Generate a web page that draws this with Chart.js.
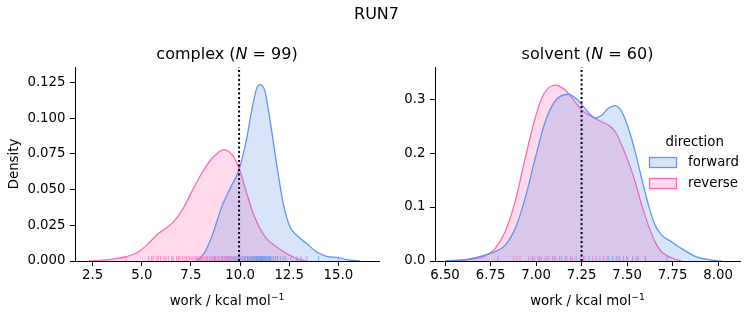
<!DOCTYPE html>
<html>
<head>
<meta charset="utf-8">
<script src="https://cdn.jsdelivr.net/npm/chart.js@4.4.1/dist/chart.umd.min.js"></script>
<style>
  body { margin: 0; background: #fff; }
  #wrap { position: relative; width: 753px; height: 325px; }
  #wrap canvas { position: absolute; left: 0; top: 0; }
</style>
</head>
<body>
<div id="wrap">
  <canvas id="chartComplex" width="753" height="325"></canvas>
  <canvas id="chartSolvent" width="753" height="325"></canvas>
</div>
<script>
const runTitle = "RUN7";
const directions = ["forward", "reverse"];

// complex leg
const complexN = 99;
const complexXTicks = [2.5, 5, 7.5, 10, 12.5, 15];
const complexYTicks = [0, 0.025, 0.05, 0.075, 0.1, 0.125];
const complexMean = 9.95;
const complexForwardKde = [
  [7.8, 0], [8.2, 0.006], [8.56, 0.017], [9.07, 0.038], [9.5, 0.051], [9.95, 0.064],
  [10.34, 0.086], [10.6, 0.106], [10.85, 0.121], [11.02, 0.1234], [11.27, 0.1187],
  [11.52, 0.099], [11.86, 0.068], [12.2, 0.04], [12.54, 0.024], [12.88, 0.018],
  [13.39, 0.0122], [13.9, 0.0063], [14.41, 0.0033], [15.0, 0.0024], [15.43, 0.001], [16.1, 0],
];
const complexReverseKde = [
  [2.3, 0], [3.3, 0.001], [4.14, 0.0028], [4.82, 0.0063], [5.33, 0.0122], [5.84, 0.0192],
  [6.27, 0.0234], [6.69, 0.0286], [7.2, 0.0391], [7.54, 0.0485], [8.05, 0.0614],
  [8.5, 0.0707], [8.85, 0.0755], [9.15, 0.078], [9.57, 0.0748], [9.95, 0.065],
  [10.34, 0.0473], [10.67, 0.0333], [11.01, 0.0228], [11.35, 0.0157], [11.86, 0.0098],
  [12.37, 0.0052], [12.88, 0.0017], [13.4, 0],
];
const complexForwardRug = [
  8.7, 9.1, 9.3, 9.45, 9.6, 9.7, 9.8, 9.9, 10.0, 10.1, 10.2, 10.25, 10.3, 10.38, 10.45,
  10.5, 10.55, 10.6, 10.65, 10.7, 10.72, 10.78, 10.82, 10.86, 10.9, 10.93, 10.96, 11.0,
  11.02, 11.05, 11.08, 11.1, 11.13, 11.16, 11.2, 11.23, 11.27, 11.3, 11.35, 11.4, 11.45,
  11.5, 11.55, 11.62, 11.7, 11.8, 11.9, 12.05, 12.3, 12.6, 12.9, 13.1, 13.4, 14.0, 15.0,
];
const complexReverseRug = [
  4.2, 5.35, 5.5, 5.58, 5.76, 5.84, 5.96, 6.13, 6.23, 6.35, 6.52, 6.6, 6.77, 6.86, 6.94,
  7.08, 7.2, 7.28, 7.4, 7.5, 7.6, 7.7, 7.78, 7.85, 7.95, 8.02, 8.1, 8.2, 8.28, 8.35, 8.45,
  8.52, 8.6, 8.68, 8.75, 8.82, 8.9, 8.97, 9.05, 9.12, 9.2, 9.28, 9.35, 9.42, 9.5, 9.58,
  9.65, 9.75, 9.85, 9.95, 10.1, 10.25, 10.4, 10.6, 10.85, 11.1, 11.5, 11.9, 12.2,
];

// solvent leg
const solventN = 60;
const solventXTicks = [6.5, 6.75, 7.0, 7.25, 7.5, 7.75, 8.0];
const solventYTicks = [0, 0.1, 0.2, 0.3];
const solventMean = 7.25;
const solventForwardKde = [
  [6.5, 0], [6.628, 0.0035], [6.72, 0.011], [6.775, 0.0175], [6.83, 0.029], [6.885, 0.06],
  [6.94, 0.116], [6.995, 0.19], [7.05, 0.258], [7.104, 0.296], [7.177, 0.309], [7.23, 0.298],
  [7.27, 0.282], [7.3, 0.271], [7.324, 0.265], [7.36, 0.27], [7.397, 0.283], [7.434, 0.288],
  [7.47, 0.277], [7.507, 0.246], [7.544, 0.203], [7.58, 0.153], [7.617, 0.104], [7.654, 0.066],
  [7.69, 0.048], [7.746, 0.035], [7.8, 0.023], [7.874, 0.0087], [7.947, 0.0026], [8.02, 0],
];
const solventReverseKde = [
  [6.5, 0], [6.628, 0.0025], [6.72, 0.0095], [6.775, 0.023], [6.83, 0.054], [6.885, 0.11],
  [6.94, 0.19], [6.995, 0.265], [7.04, 0.308], [7.104, 0.326], [7.16, 0.317], [7.214, 0.295],
  [7.25, 0.28], [7.306, 0.268], [7.36, 0.258], [7.397, 0.252], [7.434, 0.24], [7.47, 0.215],
  [7.507, 0.184], [7.544, 0.147], [7.58, 0.104], [7.617, 0.066], [7.654, 0.035], [7.69, 0.0167],
  [7.746, 0.0056], [7.8, 0],
];
const solventForwardRug = [
  6.79, 6.98, 7.02, 7.06, 7.1, 7.13, 7.16, 7.19, 7.22, 7.26, 7.29, 7.33, 7.37, 7.4, 7.42,
  7.44, 7.46, 7.48, 7.5, 7.53, 7.56, 7.6, 7.72,
];
const solventReverseRug = [
  6.875, 6.894, 6.912, 6.96, 6.99, 7.01, 7.03, 7.05, 7.07, 7.09, 7.11, 7.14, 7.17, 7.2,
  7.24, 7.27, 7.31, 7.35, 7.39, 7.45, 7.5, 7.55, 7.6,
];

const palette = { forward: [100, 149, 237], reverse: [255, 105, 180] };
const rgba = (c, a) => `rgba(${c[0]}, ${c[1]}, ${c[2]}, ${a})`;

Chart.defaults.font.family = "'DejaVu Sans', sans-serif";
Chart.defaults.color = "#000";

const tickFont = 13.3;

// draw a row of text pieces with different fonts, centred on cx
const drawRuns = (ctx, runs, cx, y) => {
  let total = 0;
  runs.forEach((r) => {
    ctx.font = r.font;
    r.w = ctx.measureText(r.text).width;
    total += r.w;
  });
  let x = cx - total / 2;
  ctx.textAlign = "left";
  runs.forEach((r) => {
    ctx.font = r.font;
    ctx.fillText(r.text, x, y + (r.dy || 0));
    x += r.w;
  });
};

const panelText = {
  id: "panelText",
  afterDraw(chart, args, o) {
    const ctx = chart.ctx;
    const area = chart.chartArea;
    const cx = (area.left + area.right) / 2;
    const fam = "'DejaVu Sans', sans-serif";
    ctx.save();
    ctx.fillStyle = "#000";
    ctx.textBaseline = "alphabetic";

    drawRuns(ctx, [
      { text: o.name + " (", font: `16px ${fam}` },
      { text: "N", font: `italic 16px ${fam}` },
      { text: " = " + o.n + ")", font: `16px ${fam}` },
    ], cx, area.top - 8);

    drawRuns(ctx, [
      { text: "work / kcal mol", font: `${tickFont}px ${fam}` },
      { text: "\u22121", font: `9.3px ${fam}`, dy: -5 },
    ], cx, 305);

    if (o.ylabel) {
      ctx.save();
      ctx.translate(18, (area.top + area.bottom) / 2);
      ctx.rotate(-Math.PI / 2);
      ctx.textAlign = "center";
      ctx.font = `${tickFont}px ${fam}`;
      ctx.fillText(o.ylabel, 0, 0);
      ctx.restore();
    }

    if (o.suptitle) {
      ctx.textAlign = "center";
      ctx.font = `16px ${fam}`;
      ctx.fillText(o.suptitle, chart.width / 2, 19);
    }

    if (o.legend) {
      ctx.textAlign = "center";
      ctx.font = `${tickFont}px ${fam}`;
      ctx.fillText("direction", 694.7, 146);
      directions.forEach((d, i) => {
        const y = 157.5 + i * 21;
        ctx.fillStyle = "#fff";
        ctx.fillRect(649.5, y, 27, 10);
        ctx.fillStyle = rgba(palette[d], 0.25);
        ctx.fillRect(649.5, y, 27, 10);
        ctx.strokeStyle = rgba(palette[d], 1);
        ctx.lineWidth = 1.3;
        ctx.strokeRect(649.5, y, 27, 10);
        ctx.fillStyle = "#000";
        ctx.textAlign = "left";
        ctx.textBaseline = "middle";
        ctx.fillText(d, 688, y + 5);
        ctx.textBaseline = "alphabetic";
      });
    }
    ctx.restore();
  },
};

const kdeSet = (dir, pairs, order) => ({
  label: dir,
  data: pairs.map(([x, y]) => ({ x, y })),
  showLine: true,
  fill: "origin",
  borderColor: rgba(palette[dir], 1),
  backgroundColor: rgba(palette[dir], 0.25),
  borderWidth: 1.3,
  pointRadius: 0,
  cubicInterpolationMode: "monotone",
  order,
});

const rugSet = (dir, values, yMax, order) => ({
  label: dir + " rug",
  data: values.map((x) => ({ x, y: yMax * 0.0125 })),
  showLine: false,
  pointStyle: "line",
  rotation: 90,
  pointRadius: 2.4,
  borderWidth: 1,
  borderColor: rgba(palette[dir], 0.7),
  backgroundColor: rgba(palette[dir], 0.7),
  order,
});

const axis = (min, max, ticks, digits, size, isX) => ({
  type: "linear",
  min,
  max,
  z: 1,
  afterBuildTicks: (scale) => {
    scale.ticks = ticks.map((value) => ({ value }));
  },
  afterFit: (scale) => {
    if (isX) scale.height = size;
    else scale.width = size;
  },
  grid: { drawOnChartArea: false, drawTicks: true, tickLength: 5, color: "#000", lineWidth: 1 },
  border: { display: true, color: "#000", width: 1 },
  ticks: {
    color: "#000",
    font: { size: tickFont },
    padding: isX ? 2 : 4.5,
    autoSkip: false,
    maxRotation: 0,
    callback: (v) => Number(v).toFixed(digits),
  },
});

const makePanel = (id, p) => {
  new Chart(document.getElementById(id), {
    type: "scatter",
    data: {
      datasets: [
        kdeSet("forward", p.forwardKde, 1),
        kdeSet("reverse", p.reverseKde, 2),
        rugSet("forward", p.forwardRug, p.yMax, -1),
        rugSet("reverse", p.reverseRug, p.yMax, 0),
        {
          label: "mean",
          data: [{ x: p.mean, y: 0 }, { x: p.mean, y: p.yMax }],
          showLine: true,
          borderColor: "#000",
          borderWidth: 2,
          borderDash: [2, 2.5],
          pointRadius: 0,
          fill: false,
          order: -2,
        },
      ],
    },
    options: {
      responsive: false,
      animation: false,
      events: [],
      layout: { padding: p.padding },
      scales: {
        x: axis(p.xMin, p.xMax, p.xTicks, p.xDigits, 64, true),
        y: axis(0, p.yMax, p.yTicks, p.yDigits, p.yWidth, false),
      },
      plugins: {
        legend: { display: false },
        tooltip: { enabled: false },
        panelText: p.text,
      },
    },
    plugins: [panelText],
  });
};

makePanel("chartComplex", {
  forwardKde: complexForwardKde,
  reverseKde: complexReverseKde,
  forwardRug: complexForwardRug,
  reverseRug: complexReverseRug,
  mean: complexMean,
  xMin: 1.6, xMax: 17.07, yMax: 0.1358,
  xTicks: complexXTicks, yTicks: complexYTicks,
  xDigits: 1, yDigits: 3,
  yWidth: 75,
  padding: { left: 0, right: 374, top: 67, bottom: 0 },
  text: { name: "complex", n: complexN, ylabel: "Density", suptitle: runTitle },
});

makePanel("chartSolvent", {
  forwardKde: solventForwardKde,
  reverseKde: solventReverseKde,
  forwardRug: solventForwardRug,
  reverseRug: solventReverseRug,
  mean: solventMean,
  xMin: 6.445, xMax: 8.12, yMax: 0.3595,
  xTicks: solventXTicks, yTicks: solventYTicks,
  xDigits: 2, yDigits: 1,
  yWidth: 55,
  padding: { left: 380, right: 13, top: 67, bottom: 0 },
  text: { name: "solvent", n: solventN, legend: true },
});
</script>
</body>
</html>
